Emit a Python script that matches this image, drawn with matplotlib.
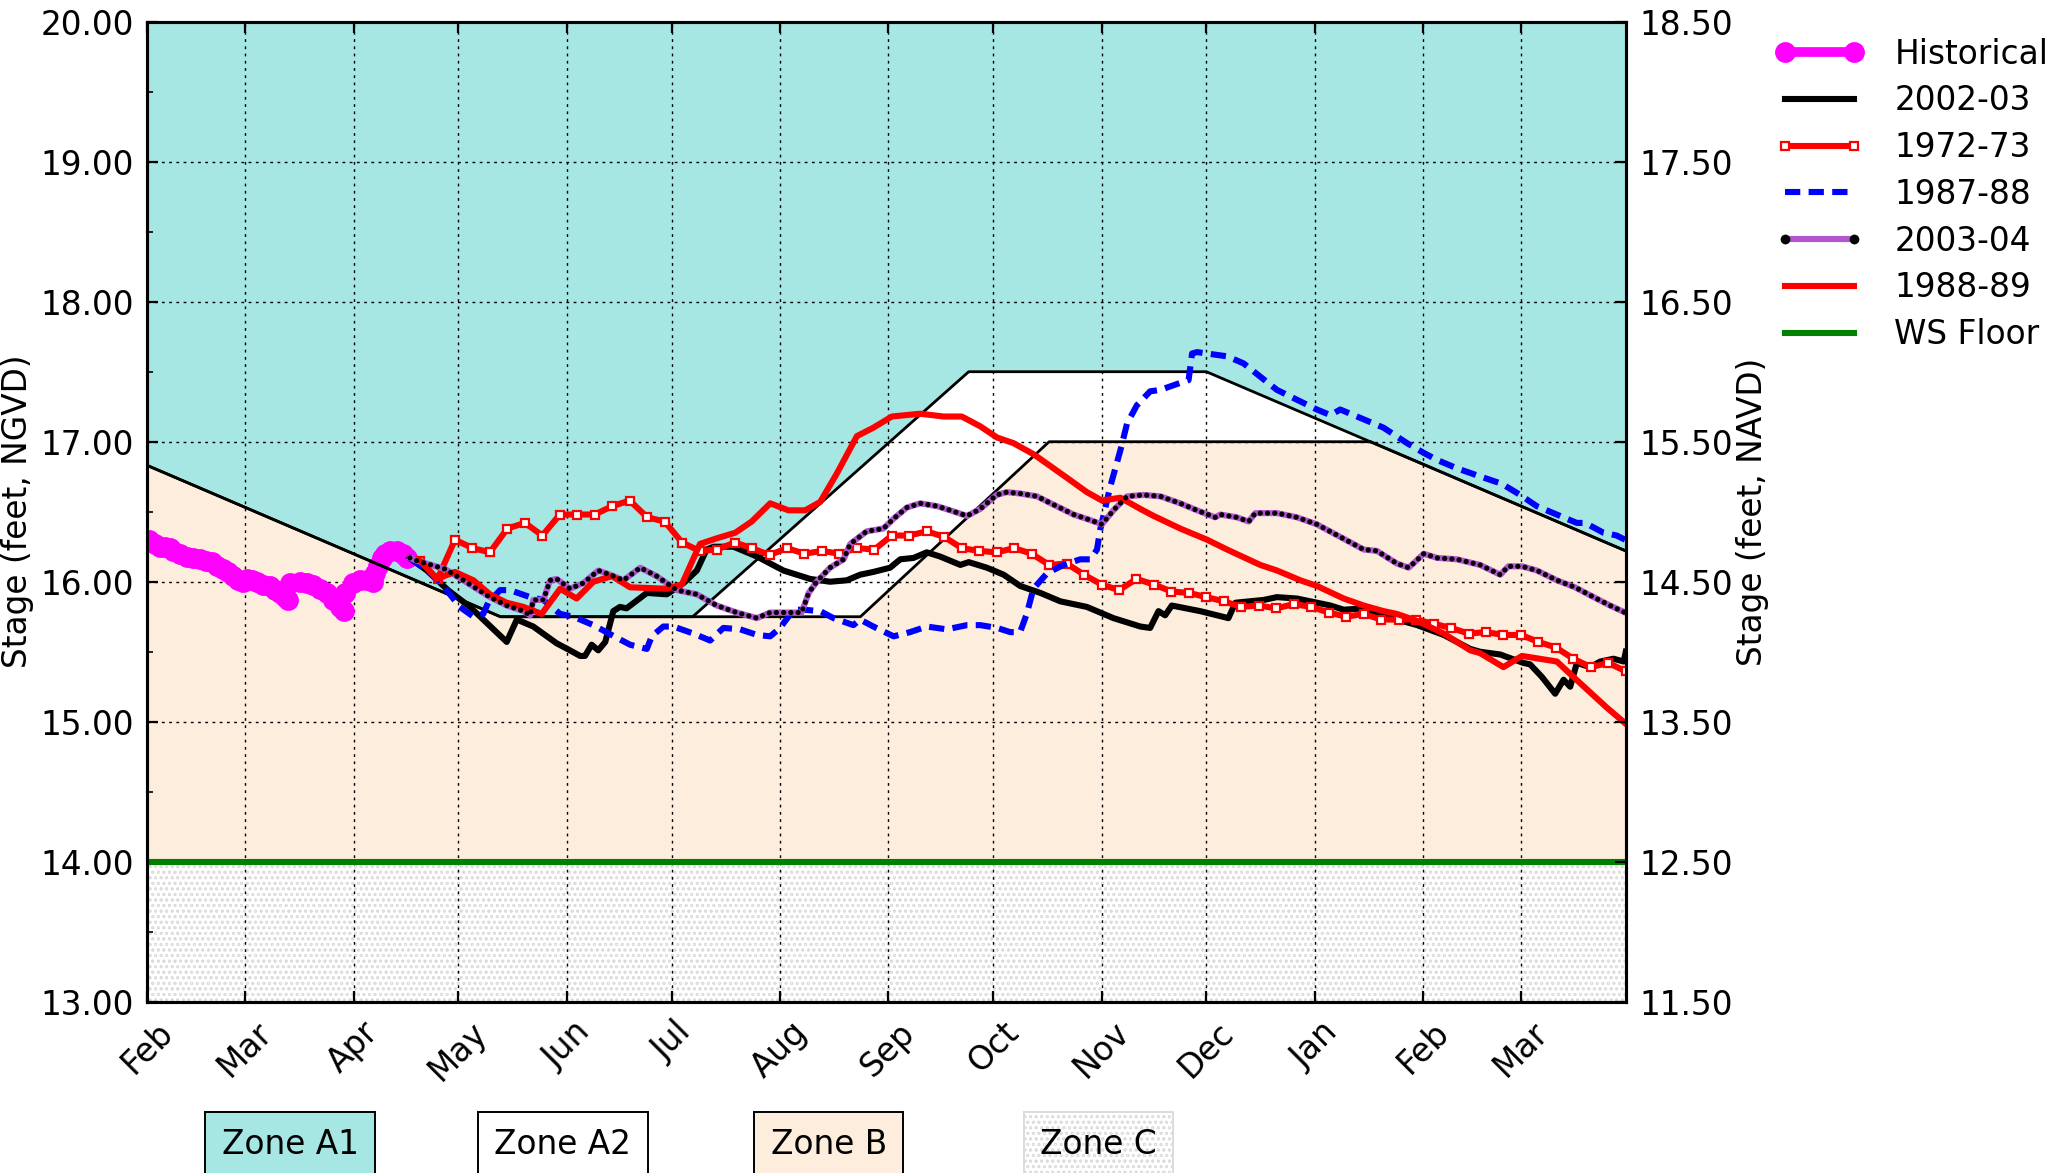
import datetime as dt
import numpy as np
import matplotlib
matplotlib.use('Agg')
import matplotlib.pyplot as plt
import matplotlib.dates as mdates
from matplotlib.lines import Line2D
from matplotlib.ticker import MultipleLocator, FormatStrFormatter

plt.rcParams['font.family'] = 'DejaVu Sans'
plt.rcParams['font.size'] = 11.8
plt.rcParams['lines.scale_dashes'] = False
plt.rcParams['hatch.linewidth'] = 0.3

START = dt.datetime(2022, 2, 1)
X_END = 423  # days after Feb 1 -> Mar 31 of next year

# regulation schedule (days after Feb 1, stage ft NGVD)
sched_upper_days = [0, 101, 156, 235, 303, 423]
sched_upper_stage = [16.83, 15.75, 15.75, 17.50, 17.50, 16.22]
sched_lower_days = [0, 101, 204, 258, 350, 423]
sched_lower_stage = [16.83, 15.75, 15.75, 17.00, 17.00, 16.22]
ws_floor = 14.0

hist_days = [0.5, 2.1, 3.6, 5.0, 6.4, 7.4, 9.3, 11.2, 13.1, 15.0, 16.9, 18.4, 19.8, 21.7, 23.1,
             24.6, 26.0, 27.4, 28.4, 29.8, 31.3, 33.2, 35.1, 36.5, 37.9, 39.4, 40.3, 40.8, 43.7,
             45.6, 47.5, 49.4, 51.3, 53.2, 55.1, 56.3, 56.5, 58.9, 60.8, 62.7, 64.6, 65.1, 66.1,
             67.0, 68.0, 69.4, 71.3, 73.2, 74.2]
hist_stage = [16.30, 16.27, 16.25, 16.25, 16.24, 16.22, 16.20, 16.18, 16.17, 16.16, 16.15, 16.14,
              16.11, 16.09, 16.07, 16.04, 16.01, 16.00, 16.02, 16.01, 16.00, 15.98, 15.97, 15.94,
              15.92, 15.89, 15.87, 15.99, 16.00, 15.99, 15.98, 15.95, 15.92, 15.87, 15.82, 15.79,
              15.92, 15.99, 16.01, 16.01, 16.00, 16.06, 16.11, 16.17, 16.20, 16.22, 16.22, 16.20,
              16.17]

y2002_days = [75, 80, 86, 92.3, 102.8, 105.7, 110.4, 117.1, 120.9, 123.8, 125.2, 127.1, 129.0,
              131.0, 133.3, 135.2, 137.1, 142.9, 148.6, 153.4, 157.2, 160.0, 162.0, 167.7, 174.4,
              182.0, 189.6, 195.3, 200.1, 203.9, 207.7, 212.5, 215.4, 219.2, 223.0, 226.8, 232.6,
              235.0, 240.2, 245.0, 249.7, 255.5, 261.2, 265.0, 268.8, 276.4, 284.1, 286.9, 289.3,
              291.2, 293.1, 301.2, 309.3, 311.3, 319.4, 323.2, 328.9, 338.5, 342.3, 348.0, 354.7,
              363.3, 370.9, 378.5, 381.3, 387.1, 393.7, 395.6, 399.0, 402.8, 405.2, 407.1, 409.0,
              412.8, 415.7, 419.5, 422.4, 423]
y2002_stage = [16.17, 16.08, 15.94, 15.82, 15.57, 15.73, 15.68, 15.56, 15.51, 15.47, 15.47, 15.55,
               15.51, 15.57, 15.79, 15.82, 15.81, 15.92, 15.91, 15.99, 16.08, 16.23, 16.25, 16.25,
               16.18, 16.08, 16.02, 16.00, 16.01, 16.05, 16.07, 16.10, 16.16, 16.17, 16.21, 16.18,
               16.12, 16.14, 16.10, 16.05, 15.97, 15.92, 15.86, 15.84, 15.82, 15.74, 15.68, 15.67,
               15.79, 15.76, 15.83, 15.79, 15.74, 15.85, 15.87, 15.89, 15.88, 15.83, 15.80, 15.81,
               15.75, 15.69, 15.62, 15.52, 15.50, 15.48, 15.42, 15.41, 15.32, 15.20, 15.30, 15.25,
               15.42, 15.39, 15.43, 15.45, 15.43, 15.50]

y1972_days = [78, 83, 88, 93, 98, 103, 108, 113, 118, 123, 128, 133, 138, 143, 148, 153, 158, 163,
              168, 173, 178, 183, 188, 193, 198, 203, 208, 213, 218, 223, 228, 233, 238, 243, 248,
              253, 258, 263, 268, 273, 278, 283, 288, 293, 298, 303, 308, 313, 318, 323, 328, 333,
              338, 343, 348, 353, 358, 363, 368, 373, 378, 383, 388, 393, 398, 403, 408, 413, 418,
              423]
y1972_stage = [16.15, 16.02, 16.30, 16.24, 16.21, 16.38, 16.42, 16.33, 16.48, 16.48, 16.48, 16.54,
               16.58, 16.46, 16.43, 16.28, 16.22, 16.23, 16.28, 16.24, 16.19, 16.24, 16.20, 16.22,
               16.20, 16.24, 16.23, 16.33, 16.33, 16.36, 16.32, 16.24, 16.22, 16.21, 16.24, 16.20,
               16.12, 16.13, 16.05, 15.98, 15.94, 16.02, 15.98, 15.93, 15.92, 15.89, 15.86, 15.82,
               15.83, 15.81, 15.84, 15.82, 15.78, 15.75, 15.77, 15.73, 15.73, 15.73, 15.70, 15.67,
               15.63, 15.64, 15.62, 15.62, 15.57, 15.53, 15.45, 15.39, 15.42, 15.36]

y1987_days = [75, 80, 83.7, 89.4, 93.3, 96.1, 97.5, 100.9, 103.7, 109.5, 113.3, 118.1, 121.9, 127.6,
              134.3, 138.1, 142.9, 144.3, 147.6, 150.5, 156.2, 161, 164.8, 169.6, 174.4, 178.2, 181,
              184.9, 187.7, 192.5, 196.3, 202, 203.9, 207.7, 213.5, 218.2, 223, 228.7, 234.5, 238.3,
              243.1, 246.9, 249.7, 251.6, 253.5, 257.4, 262.1, 266.9, 269.8, 271.7, 272.6, 275.5,
              278.4, 280.3, 283.1, 286.9, 289.8, 295.5, 297.9, 298.9, 300.3, 308.9, 313.6, 323.2,
              328.9, 334.6, 338.5, 341.3, 348, 353.7, 360.4, 365.2, 369, 374.7, 380.4, 385.1, 387.5,
              392.8, 397.5, 404.2, 409, 411.4, 416.6, 420.4, 422.8]
y1987_stage = [16.17, 16.08, 16.00, 15.82, 15.75, 15.77, 15.85, 15.94, 15.94, 15.89, 15.87, 15.77,
               15.75, 15.69, 15.60, 15.55, 15.52, 15.61, 15.68, 15.68, 15.63, 15.58, 15.67, 15.66,
               15.62, 15.61, 15.67, 15.80, 15.80, 15.79, 15.74, 15.69, 15.73, 15.68, 15.61, 15.64,
               15.68, 15.66, 15.69, 15.69, 15.67, 15.64, 15.64, 15.77, 15.95, 16.06, 16.12, 16.16,
               16.16, 16.23, 16.37, 16.68, 16.94, 17.13, 17.26, 17.36, 17.37, 17.42, 17.44, 17.63,
               17.64, 17.61, 17.56, 17.37, 17.30, 17.23, 17.19, 17.23, 17.16, 17.10, 16.99, 16.92,
               16.87, 16.81, 16.76, 16.72, 16.70, 16.62, 16.54, 16.47, 16.42, 16.42, 16.35, 16.33,
               16.30]

y2003_days = [75.1, 77.1, 85.2, 88.5, 92.3, 98, 102.8, 107.6, 109.5, 110.4, 113.3, 115.2, 117.1,
              120.9, 124.7, 129, 132.4, 136.2, 141, 145.7, 151.5, 157.2, 162.9, 168.6, 174.4, 178.2,
              183.9, 187.2, 189.2, 191.5, 195.3, 199.2, 201.1, 205.8, 210.6, 213.5, 217.3, 221.1,
              225.9, 229.7, 234.5, 238.3, 243, 245.9, 249.7, 254.5, 259.3, 265, 269.8, 273.1, 276.4,
              280.3, 285, 289.8, 295.5, 300.3, 305.5, 307, 311.7, 315.1, 317, 323.2, 328.9, 334.6,
              341.3, 348, 351.8, 357.5, 360.9, 365.2, 369, 374.7, 381.3, 387.1, 389.4, 393.3, 397.6,
              403.3, 408.5, 413.8, 418.5, 422.8]
y2003_stage = [16.17, 16.15, 16.09, 16.04, 15.98, 15.89, 15.83, 15.79, 15.76, 15.87, 15.87, 16.01,
               16.02, 15.95, 15.99, 16.08, 16.05, 16.01, 16.10, 16.04, 15.94, 15.91, 15.83, 15.78,
               15.74, 15.78, 15.78, 15.78, 15.92, 16.00, 16.10, 16.16, 16.27, 16.36, 16.38, 16.45,
               16.53, 16.56, 16.54, 16.51, 16.47, 16.52, 16.62, 16.64, 16.63, 16.61, 16.55, 16.48,
               16.44, 16.41, 16.51, 16.61, 16.62, 16.61, 16.56, 16.51, 16.46, 16.48, 16.46, 16.43,
               16.49, 16.49, 16.46, 16.41, 16.32, 16.23, 16.22, 16.13, 16.10, 16.20, 16.17, 16.16,
               16.12, 16.05, 16.11, 16.11, 16.08, 16.01, 15.96, 15.89, 15.83, 15.78]

y1988_days = [78, 82.8, 88, 93.3, 98, 102.8, 107.6, 112.8, 118.1, 122.8, 127.6, 132.9, 138.1, 148.6,
              152.9, 158.1, 162.9, 168.2, 172.9, 178.2, 183.4, 188.2, 192.5, 197.2, 203, 207.7, 213,
              221.1, 227.8, 233, 238.3, 243.1, 247.8, 253.6, 262.1, 268.8, 273.1, 278.4, 284.1,
              287.9, 295.5, 303.2, 308.9, 318.4, 323.2, 329.9, 334.6, 342.3, 348, 353.7, 357.5,
              363.3, 370.9, 378.5, 381.3, 388, 393.3, 403.3, 408, 417.6, 422.8]
y1988_stage = [16.15, 16.02, 16.07, 16.01, 15.91, 15.85, 15.82, 15.77, 15.95, 15.88, 16.00, 16.04,
               15.96, 15.95, 15.98, 16.27, 16.31, 16.35, 16.43, 16.56, 16.51, 16.51, 16.57, 16.77,
               17.04, 17.10, 17.18, 17.20, 17.18, 17.18, 17.11, 17.03, 16.99, 16.91, 16.76, 16.64,
               16.58, 16.60, 16.52, 16.47, 16.38, 16.30, 16.23, 16.12, 16.08, 16.01, 15.97, 15.88,
               15.83, 15.79, 15.77, 15.72, 15.63, 15.51, 15.49, 15.39, 15.47, 15.43, 15.32, 15.10,
               14.99]

zone_labels = ['Zone A1', 'Zone A2', 'Zone B', 'Zone C']

C_A1 = '#a6e7e4'
C_B = '#fdeddd'
C_PURPLE = '#b455d0'
LW = 2.2

base = mdates.date2num(START)


def to_x(days):
    return base + np.asarray(days, dtype=float)


fig = plt.figure(figsize=(10.295, 5.865), dpi=200)
ax = fig.add_axes([0.0716, 0.146, 0.718, 0.8355])
ymin, ymax = 13.0, 20.0

# zone fills
ux, uy = to_x(sched_upper_days), np.array(sched_upper_stage)
lx, ly = to_x(sched_lower_days), np.array(sched_lower_stage)
ax.fill(np.r_[ux, ux[::-1]], np.r_[uy, np.full(len(uy), ymax)], color=C_A1, lw=0, zorder=0.2)
ax.fill(np.r_[ux, lx[::-1]], np.r_[uy, ly[::-1]], color='white', lw=0, zorder=0.2)
ax.fill(np.r_[lx, lx[::-1]], np.r_[ly, np.full(len(ly), ws_floor)], color=C_B, lw=0, zorder=0.2)
ax.fill_between(to_x([0, X_END]), ymin, ws_floor, facecolor='white', edgecolor='#dcdcdc',
                hatch='oooooo', lw=0, zorder=0.2)

ax.plot(ux, uy, color='black', lw=1.0, zorder=2.2)
ax.plot(lx, ly, color='black', lw=1.0, zorder=2.2)

# series
h_hist, = ax.plot(to_x(hist_days), hist_stage, color='magenta', lw=3.5, marker='o', ms=6.5,
                  mec='magenta', zorder=2, label='Historical')
h02, = ax.plot(to_x(y2002_days), y2002_stage, color='black', lw=LW, zorder=3, label='2002-03')
h72, = ax.plot(to_x(y1972_days), y1972_stage, color='red', lw=LW, marker='s', ms=2.8,
               mfc='white', mec='red', mew=0.8, zorder=3, label='1972-73')
h87, = ax.plot(to_x(y1987_days), y1987_stage, color='blue', lw=LW, ls=(0, (5.5, 3.0)),
               zorder=3, label='1987-88')
ax.plot(to_x(y2003_days), y2003_stage, color=C_PURPLE, lw=LW, zorder=3)
ax.plot(to_x(y2003_days), y2003_stage, color='black', lw=1.9, ls=(0, (0.01, 2.6)),
        dash_capstyle='round', zorder=3.1)
h03 = Line2D([], [], color=C_PURPLE, lw=LW, marker='.', ms=5, mfc='black', mec='black',
             label='2003-04')
h88, = ax.plot(to_x(y1988_days), y1988_stage, color='red', lw=LW, zorder=3, label='1988-89')
h_ws = ax.axhline(ws_floor, color='green', lw=LW, zorder=3, label='WS Floor')

# axes formatting
ax.set_xlim(base, base + X_END)
ax.set_ylim(ymin, ymax)
ax.xaxis.set_major_locator(mdates.MonthLocator())
ax.xaxis.set_major_formatter(mdates.DateFormatter('%b'))
ax.yaxis.set_major_locator(MultipleLocator(1.0))
ax.yaxis.set_minor_locator(MultipleLocator(0.5))
ax.yaxis.set_major_formatter(FormatStrFormatter('%.2f'))
ax.tick_params(axis='both', which='both', direction='in')
ax.tick_params(axis='x', top=True, rotation=45, length=4, pad=5)
ax.tick_params(axis='y', which='major', length=4, pad=5)
ax.tick_params(axis='y', which='minor', length=2)
ax.grid(True, which='major', color='black', lw=0.5, ls=(0, (1, 1.6)))
ax.set_axisbelow('line')
ax.set_ylabel('Stage (feet, NGVD)', labelpad=2)
for sp in ax.spines.values():
    sp.set_linewidth(1.1)

ax2 = ax.twinx()
ax2.set_ylim(ymin - 1.5, ymax - 1.5)
ax2.yaxis.set_major_locator(MultipleLocator(1.0, offset=0.5))
ax2.yaxis.set_major_formatter(FormatStrFormatter('%.2f'))
ax2.tick_params(axis='y', direction='in', length=4, pad=5)
ax2.set_ylabel('Stage (feet, NAVD)', labelpad=1)
for sp in ax2.spines.values():
    sp.set_linewidth(1.1)

fig.legend(handles=[h_hist, h02, h72, h87, h03, h88, h_ws], loc='upper left',
           bbox_to_anchor=(0.862, 0.968), frameon=False, borderpad=0, borderaxespad=0,
           handlelength=2.7, handletextpad=0.95, labelspacing=0.42, numpoints=2)

# zone key below the chart
zone_styles = [dict(facecolor=C_A1, edgecolor='black'),
               dict(facecolor='white', edgecolor='black'),
               dict(facecolor=C_B, edgecolor='black'),
               dict(facecolor='white', edgecolor='#dcdcdc', hatch='oooooo')]
zone_x = [0.141, 0.2734, 0.4025, 0.5335]
for lab, xx, st in zip(zone_labels, zone_x, zone_styles):
    fig.text(xx, 0.024, lab, ha='center', va='center',
             bbox=dict(boxstyle='square,pad=0.5', linewidth=0.7, **st))

fig.savefig('out.png', dpi=200)
